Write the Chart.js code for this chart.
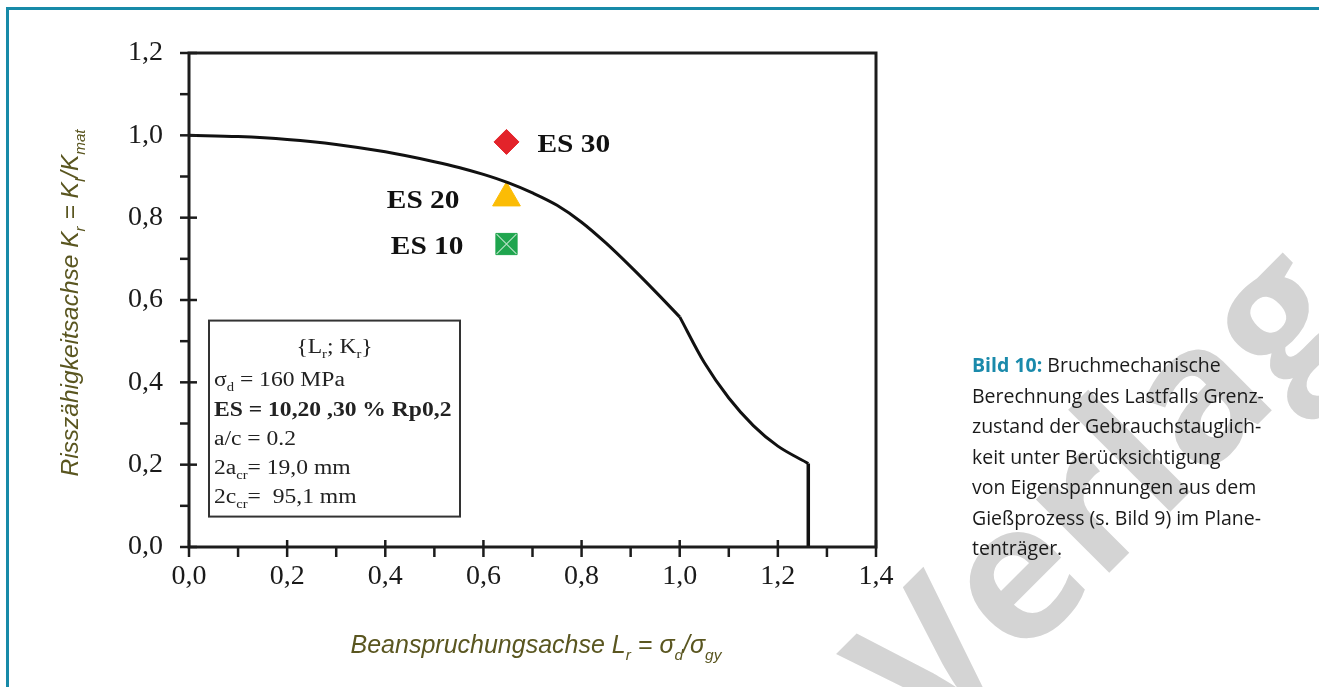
<!DOCTYPE html>
<html>
<head>
<meta charset="utf-8">
<script src="https://cdn.jsdelivr.net/npm/chart.js@4.4.1/dist/chart.umd.min.js"></script>
<style>
    html, body { margin: 0; padding: 0; background: #fff; width: 1319px; height: 687px; overflow: hidden; }
    #wrap { position: absolute; left: 0; top: 0; width: 1319px; height: 687px; }
    .frame { position: absolute; left: 6px; top: 7px; width: 1400px; height: 800px;
             border-top: 3px solid #178aa8; border-left: 3px solid #178aa8; z-index: 2; }
    .caption { position: absolute; left: 972px; top: 350px; width: 345px; z-index: 2; white-space: nowrap;
               font-family: "Open Sans", sans-serif; font-size: 19.5px; line-height: 30.5px; color: #1a1a1a; }
    .caption b { color: #1a8aab; }
</style>
</head>
<body>
<div id="wrap"><canvas id="fadChart"></canvas></div>
<div class="frame"></div>
<div class="caption"><b>Bild 10:</b> Bruchmechanische<br>Berechnung des Lastfalls Grenz-<br>zustand der Gebrauchstauglich-<br>keit unter Berücksichtigung<br>von Eigenspannungen aus dem<br>Gießprozess (s. Bild 9) im Plane-<br>tenträger.</div>
<script>
// FAD curve (Lr, Kr), split at the kink Lr = 1.0
const upperLr = [0, 0.1, 0.2, 0.3, 0.4, 0.5, 0.55, 0.6, 0.65, 0.7, 0.75, 0.8, 0.85, 0.9, 0.95, 1.0];
const upperKr = [1.0, 0.997, 0.99, 0.978, 0.96, 0.936, 0.922, 0.905, 0.885, 0.86, 0.83, 0.789, 0.738, 0.681, 0.621, 0.559];
const lowerLr = [1.0, 1.05, 1.1, 1.15, 1.2, 1.262];
const lowerKr = [0.559, 0.448, 0.362, 0.295, 0.245, 0.203];

// Lr,max cut-off
const cutoffLr = [1.262, 1.262];
const cutoffKr = [0.203, 0];

// load cases
const caseNames = ['ES 30', 'ES 20', 'ES 10'];
const caseLr = [0.647, 0.647, 0.647];
const caseKr = [0.984, 0.848, 0.736];
const caseColors = ['#e3232a', '#fbbc05', '#1fa54e'];
const caseStyles = ['rectRot', 'triangle', 'rect'];
const caseRadius = [12.5, 16, 15];

// axis ticks
const xTickValues = [0, 0.2, 0.4, 0.6, 0.8, 1.0, 1.2, 1.4];
const yTickValues = [0, 0.2, 0.4, 0.6, 0.8, 1.0, 1.2];

const serif = '"Liberation Serif", "Times New Roman", serif';
const sans = '"Liberation Sans", Arial, sans-serif';
const titleColor = '#5a5620';

function toPoints(xs, ys) {
    return xs.map((x, i) => ({ x: x, y: ys[i] }));
}

function commaLabel(v) {
    return Number(v).toFixed(1).replace('.', ',');
}

// text made of normal and subscript pieces
function richWidth(ctx, parts, o) {
    let w = 0;
    parts.forEach(p => {
        const size = p.sub ? o.size * 0.62 : o.size;
        ctx.font = `${o.style || 'normal'} ${o.weight || 'normal'} ${size}px ${o.family}`;
        w += ctx.measureText(p.t).width;
    });
    return w;
}

function drawRich(ctx, parts, x, y, o) {
    ctx.save();
    ctx.translate(x, y);
    if (o.rotate) ctx.rotate(o.rotate);
    ctx.scale(o.sx || 1, 1);
    const w = richWidth(ctx, parts, o);
    let cx = o.align === 'center' ? -w / 2 : (o.align === 'right' ? -w : 0);
    ctx.fillStyle = o.color;
    ctx.textBaseline = 'alphabetic';
    ctx.textAlign = 'left';
    parts.forEach(p => {
        const size = p.sub ? o.size * 0.62 : o.size;
        ctx.font = `${o.style || 'normal'} ${o.weight || 'normal'} ${size}px ${o.family}`;
        ctx.fillText(p.t, cx, p.sub ? o.size * 0.28 : 0);
        cx += ctx.measureText(p.t).width;
    });
    ctx.restore();
}

const boxLines = [
    [{ t: '{L' }, { t: 'r', sub: true }, { t: '; K' }, { t: 'r', sub: true }, { t: '}' }],
    [{ t: 'σ' }, { t: 'd', sub: true }, { t: ' = 160 MPa' }],
    [{ t: 'ES = 10,20 ,30 % Rp0,2' }],
    [{ t: 'a/c = 0.2' }],
    [{ t: '2a' }, { t: 'cr', sub: true }, { t: '= 19,0 mm' }],
    [{ t: '2c' }, { t: 'cr', sub: true }, { t: '=  95,1 mm' }]
];
const boxBaselines = [32, 65, 95, 124, 153, 182];

const watermark = {
    id: 'watermark',
    beforeDraw(chart) {
        const ctx = chart.ctx;
        ctx.save();
        ctx.translate(932, 750);
        ctx.rotate(-Math.PI / 4);
        ctx.font = 'bold 190px "Open Sans", sans-serif';
        ctx.fillStyle = '#d4d4d4';
        ctx.fillText('Verlag', 0, 0);
        ctx.restore();
    }
};

const decorations = {
    id: 'decorations',
    afterDraw(chart) {
        const ctx = chart.ctx;
        const a = chart.chartArea;
        const xs = chart.scales.x;
        const ys = chart.scales.y;
        ctx.save();
        ctx.strokeStyle = '#1c1c1c';
        ctx.lineWidth = 3;
        ctx.strokeRect(a.left, a.top, a.right - a.left, a.bottom - a.top);

        // major ticks cross the axis, minor ticks only point outward
        ctx.lineWidth = 2.5;
        for (let i = 0; i <= 14; i++) {
            const px = xs.getPixelForValue(i / 10);
            ctx.beginPath();
            ctx.moveTo(px, i % 2 === 0 ? a.bottom - 7 : a.bottom);
            ctx.lineTo(px, a.bottom + 10);
            ctx.stroke();
        }
        for (let i = 0; i <= 12; i++) {
            const py = ys.getPixelForValue(i / 10);
            ctx.beginPath();
            ctx.moveTo(a.left - 9, py);
            ctx.lineTo(i % 2 === 0 ? a.left + 8 : a.left, py);
            ctx.stroke();
        }

        // parameter box
        const bx = a.left + 20, by = ys.getPixelForValue(0.55), bw = 251, bh = 196;
        ctx.lineWidth = 2;
        ctx.strokeStyle = '#333';
        ctx.strokeRect(bx, by, bw, bh);
        boxLines.forEach((parts, i) => {
            drawRich(ctx, parts, i === 0 ? bx + bw / 2 : bx + 5, by + boxBaselines[i], {
                size: 20.5, family: serif, color: '#222', sx: 1.15,
                weight: i === 2 ? 'bold' : 'normal', align: i === 0 ? 'center' : 'left'
            });
        });

        // case labels next to the markers
        const meta = chart.getDatasetMeta(3);
        const offsets = [[31, 'left'], [-47, 'right'], [-43, 'right']];
        caseNames.forEach((name, i) => {
            const el = meta.data[i];
            drawRich(ctx, [{ t: name }], el.x + offsets[i][0], el.y + 10, {
                size: 26, family: serif, weight: 'bold', color: '#111', sx: 1.13, align: offsets[i][1]
            });
        });

        // axis titles
        drawRich(ctx, [{ t: 'Beanspruchungsachse L' }, { t: 'r', sub: true }, { t: ' = σ' }, { t: 'd', sub: true }, { t: '/σ' }, { t: 'gy', sub: true }],
            536, 653, { size: 25, family: sans, style: 'italic', color: titleColor, align: 'center' });
        drawRich(ctx, [{ t: 'Risszähigkeitsachse K' }, { t: 'r', sub: true }, { t: ' = K' }, { t: 'I', sub: true }, { t: '/K' }, { t: 'mat', sub: true }],
            78, 303, { size: 24.5, family: sans, style: 'italic', color: titleColor, align: 'center', rotate: -Math.PI / 2 });
        ctx.restore();
    }
};

const lineStyle = {
    showLine: true,
    borderColor: '#111',
    borderWidth: 3,
    pointRadius: 0,
    fill: false
};

const ctx = document.getElementById('fadChart').getContext('2d');
new Chart(ctx, {
    type: 'scatter',
    data: {
        datasets: [
            Object.assign({ data: toPoints(upperLr, upperKr), cubicInterpolationMode: 'monotone', order: 0 }, lineStyle),
            Object.assign({ data: toPoints(lowerLr, lowerKr), cubicInterpolationMode: 'monotone', order: 0 }, lineStyle),
            Object.assign({ data: toPoints(cutoffLr, cutoffKr), order: 1 }, lineStyle, { borderWidth: 3.5 }),
            {
                data: toPoints(caseLr, caseKr),
                pointStyle: caseStyles,
                pointRadius: caseRadius,
                backgroundColor: caseColors,
                borderColor: caseColors,
                borderWidth: 1,
                order: 3
            }, {
                // thin cross inside the ES 10 square
                data: toPoints(caseLr.slice(2), caseKr.slice(2)),
                pointStyle: 'crossRot',
                pointRadius: 14,
                borderColor: 'rgba(255,255,255,0.65)',
                borderWidth: 1.2,
                order: 2
            }
        ]
    },
    options: {
        responsive: true,
        maintainAspectRatio: false,
        animation: false,
        events: [],
        layout: { padding: { top: 53, right: 443, bottom: 0, left: 0 } },
        plugins: {
            legend: { display: false },
            tooltip: { enabled: false }
        },
        scales: {
            x: {
                type: 'linear',
                min: 0,
                max: 1.4,
                afterBuildTicks: s => { s.ticks = xTickValues.map(v => ({ value: v })); },
                afterFit: s => { s.height = 140; },
                grid: { display: false, drawTicks: false },
                border: { display: false },
                ticks: {
                    callback: commaLabel,
                    font: { family: serif, size: 28 },
                    color: '#1a1a1a',
                    padding: 13,
                    maxRotation: 0
                }
            },
            y: {
                type: 'linear',
                min: 0,
                max: 1.2,
                afterBuildTicks: s => { s.ticks = yTickValues.map(v => ({ value: v })); },
                afterFit: s => { s.width = 189; },
                grid: { display: false, drawTicks: false },
                border: { display: false },
                ticks: {
                    callback: commaLabel,
                    font: { family: serif, size: 28 },
                    color: '#1a1a1a',
                    padding: 26
                }
            }
        }
    },
    plugins: [watermark, decorations]
});
</script>
</body>
</html>
